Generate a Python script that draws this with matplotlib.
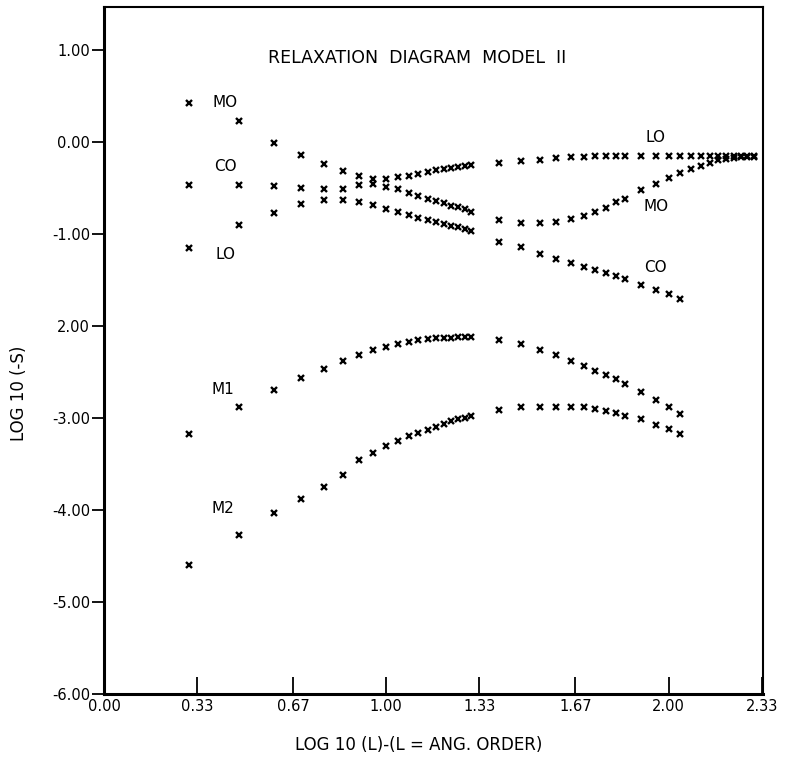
import numpy as np
import matplotlib
matplotlib.use('Agg')
import matplotlib.pyplot as plt

#ANGULAR ORDER L (x axis is log10 of it)
L_short = [2, 3, 4, 5, 6, 7, 8, 9, 10, 11, 12, 13, 14, 15, 16, 17, 18, 19, 20]
L_mid = [25, 30, 35, 40, 45, 50, 55, 60, 65, 70, 80, 90, 100, 110]
L_long = [120, 130, 140, 150, 160, 170, 180, 190, 200]

#UPPER BRANCH (MO at left, LO at right)
top_branch = [0.42, 0.23, -0.01, -0.15, -0.24, -0.32, -0.37, -0.41, -0.41, -0.38,
              -0.37, -0.35, -0.33, -0.31, -0.30, -0.29, -0.28, -0.26, -0.25,
              -0.23, -0.21, -0.195, -0.18, -0.17, -0.165, -0.16, -0.16, -0.155,
              -0.155, -0.16, -0.16, -0.16, -0.16,
              -0.16, -0.16, -0.16, -0.16, -0.16, -0.16, -0.16, -0.16, -0.16]

#MIDDLE BRANCH (CO at left, MO at right)
mid_branch = [-0.47, -0.47, -0.48, -0.50, -0.51, -0.51, -0.47, -0.46, -0.49, -0.52,
              -0.56, -0.59, -0.62, -0.64, -0.67, -0.70, -0.71, -0.73, -0.76,
              -0.85, -0.88, -0.88, -0.87, -0.84, -0.81, -0.76, -0.72, -0.66,
              -0.62, -0.53, -0.46, -0.39, -0.34,
              -0.30, -0.26, -0.23, -0.20, -0.19, -0.18, -0.17, -0.17, -0.165]

#LOWER BRANCH (LO at left, CO at right)
low_branch = [-1.16, -0.91, -0.78, -0.68, -0.63, -0.63, -0.66, -0.69, -0.73, -0.76,
              -0.80, -0.83, -0.85, -0.87, -0.89, -0.92, -0.93, -0.95, -0.97,
              -1.09, -1.15, -1.22, -1.28, -1.32, -1.36, -1.40, -1.43, -1.46,
              -1.49, -1.56, -1.61, -1.66, -1.71]

m1 = [-3.18, -2.89, -2.70, -2.57, -2.47, -2.39, -2.32, -2.27, -2.23, -2.20,
      -2.18, -2.16, -2.15, -2.14, -2.13, -2.13, -2.125, -2.12, -2.12,
      -2.16, -2.20, -2.26, -2.32, -2.38, -2.44, -2.49, -2.54, -2.58,
      -2.63, -2.72, -2.81, -2.88, -2.96]

m2 = [-4.60, -4.28, -4.04, -3.88, -3.75, -3.62, -3.46, -3.39, -3.31, -3.25,
      -3.20, -3.17, -3.13, -3.10, -3.07, -3.04, -3.02, -3.00, -2.98,
      -2.92, -2.89, -2.88, -2.88, -2.88, -2.89, -2.91, -2.93, -2.95,
      -2.98, -3.02, -3.08, -3.12, -3.18]

x_ticks = [0.0, 0.33, 0.67, 1.0, 1.33, 1.67, 2.0, 2.33]
x_ticklabels = ['0.00', '0.33', '0.67', '1.00', '1.33', '1.67', '2.00', '2.33']
y_ticks = [1, 0, -1, -2, -3, -4, -5, -6]
y_ticklabels = ['1.00', '0.00', '-1.00', '2.00', '-3.00', '-4.00', '-5.00', '-6.00']

#----

x_short = np.log10(L_short)
x_mid = np.log10(L_mid)
x_long = np.log10(L_long)
x_two = np.concatenate([x_short, x_mid])
x_all = np.concatenate([x_short, x_mid, x_long])

fig = plt.figure(figsize=(7.85, 7.68), dpi=100)
ax = fig.add_axes([0.1325, 0.097, 0.84, 0.894])

mk = dict(marker='x', linestyle='none', color='black', markersize=4.5, markeredgewidth=1.7)
ax.plot(x_all, top_branch, **mk)
ax.plot(x_all, mid_branch, **mk)
ax.plot(x_two, low_branch, **mk)
ax.plot(x_two, m1, **mk)
ax.plot(x_two, m2, **mk)

ax.set_xlim(0, 2.336)
ax.set_ylim(-6, 1.465)

ax.set_xticks(x_ticks)
ax.set_xticklabels(x_ticklabels)
ax.set_yticks(y_ticks)
ax.set_yticklabels(y_ticklabels)
ax.tick_params(axis='x', direction='in', length=12, width=1.3, pad=4, labelsize=10.5)
ax.tick_params(axis='y', direction='out', length=9, width=1.3, pad=1, labelsize=10.5)

for s in ['left', 'bottom']:
    ax.spines[s].set_linewidth(2.2)
for s in ['top', 'right']:
    ax.spines[s].set_linewidth(1.5)

#LABELS ON CURVES
fs = 11
ax.text(0.43, 0.43, 'MO', fontsize=fs, ha='center', va='center')
ax.text(0.43, -0.275, 'CO', fontsize=fs, ha='center', va='center')
ax.text(0.43, -1.23, 'LO', fontsize=fs, ha='center', va='center')
ax.text(1.955, 0.04, 'LO', fontsize=fs, ha='center', va='center')
ax.text(1.955, -0.70, 'MO', fontsize=fs, ha='center', va='center')
ax.text(1.955, -1.37, 'CO', fontsize=fs, ha='center', va='center')
ax.text(0.42, -2.69, 'M1', fontsize=fs, ha='center', va='center')
ax.text(0.42, -3.99, 'M2', fontsize=fs, ha='center', va='center')

ax.text(1.11, 0.91, 'RELAXATION  DIAGRAM  MODEL  II', fontsize=12.5, ha='center', va='center')

fig.text(0.533, 1 - 745 / 768, 'LOG 10 (L)-(L = ANG. ORDER)', fontsize=12, ha='center', va='center')
fig.text(0.024, 0.488, 'LOG 10 (-S)', fontsize=12, ha='center', va='center', rotation=90)

fig.savefig('out.png', dpi=100)
